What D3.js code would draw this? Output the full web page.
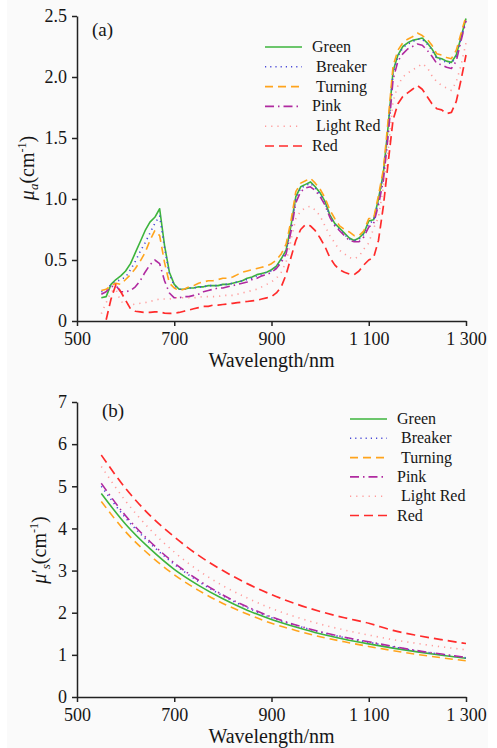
<!DOCTYPE html>
<html>
<head>
<meta charset="utf-8">
<script src="https://cdn.jsdelivr.net/npm/d3@7/dist/d3.min.js"></script>
<style>
  body { margin: 0; background: #fff; }
  svg text { font-family: "Times New Roman", "Liberation Serif", "DejaVu Serif", serif; fill: #161616; }
</style>
</head>
<body>
<div id="chart"></div>
<script>
// ---- data ----
const seriesNames = ['Green', 'Breaker', 'Turning', 'Pink', 'Light Red', 'Red'];

// panel (a): absorption coefficient, cm-1
const wavelengthA = [
  550, 560, 570, 580, 590, 600, 610, 620, 630, 640, 650, 660, 670, 680, 690, 700,
  710, 720, 730, 740, 750, 760, 770, 780, 790, 800, 810, 820, 830, 840, 850, 860,
  870, 880, 890, 900, 910, 920, 930, 940, 950, 960, 970, 980, 990, 1000, 1010, 1020,
  1030, 1040, 1050, 1060, 1070, 1080, 1090, 1100, 1110, 1120, 1130, 1140, 1150, 1160,
  1170, 1180, 1190, 1200, 1210, 1220, 1230, 1240, 1250, 1260, 1270, 1280, 1290, 1300
];
const muaGreen = [
  0.19, 0.20, 0.30, 0.34, 0.37, 0.41, 0.47, 0.56, 0.65, 0.74, 0.81, 0.85, 0.92, 0.62, 0.40, 0.30,
  0.26, 0.26, 0.27, 0.27, 0.28, 0.28, 0.29, 0.29, 0.29, 0.30, 0.30, 0.31, 0.32, 0.33, 0.35, 0.36,
  0.38, 0.39, 0.40, 0.42, 0.45, 0.51, 0.58, 0.78, 1.02, 1.10, 1.12, 1.14, 1.10, 1.05, 0.98, 0.87,
  0.80, 0.76, 0.72, 0.68, 0.66, 0.68, 0.72, 0.82, 0.83, 1.00, 1.21, 1.60, 2.05, 2.18,
  2.25, 2.28, 2.30, 2.31, 2.32, 2.28, 2.23, 2.16, 2.15, 2.13, 2.12, 2.18, 2.33, 2.48
];
const muaBreaker = [
  0.24, 0.25, 0.30, 0.32, 0.34, 0.36, 0.42, 0.49, 0.57, 0.64, 0.72, 0.80, 0.86, 0.60, 0.38, 0.29,
  0.26, 0.26, 0.27, 0.27, 0.28, 0.28, 0.29, 0.29, 0.29, 0.30, 0.30, 0.31, 0.32, 0.33, 0.34, 0.35,
  0.37, 0.38, 0.40, 0.41, 0.44, 0.50, 0.57, 0.76, 1.00, 1.09, 1.11, 1.13, 1.09, 1.04, 0.97, 0.86,
  0.79, 0.75, 0.71, 0.67, 0.66, 0.67, 0.71, 0.80, 0.82, 0.98, 1.20, 1.58, 2.03, 2.17,
  2.24, 2.27, 2.29, 2.31, 2.31, 2.27, 2.22, 2.15, 2.14, 2.12, 2.11, 2.17, 2.32, 2.47
];
const muaTurning = [
  0.25, 0.26, 0.29, 0.31, 0.30, 0.34, 0.38, 0.43, 0.49, 0.56, 0.66, 0.74, 0.70, 0.48, 0.31, 0.27,
  0.25, 0.26, 0.28, 0.29, 0.31, 0.32, 0.33, 0.33, 0.34, 0.35, 0.35, 0.36, 0.38, 0.40, 0.41, 0.42,
  0.43, 0.44, 0.45, 0.47, 0.50, 0.55, 0.63, 0.82, 1.06, 1.13, 1.15, 1.17, 1.13, 1.08, 1.01, 0.91,
  0.84, 0.78, 0.75, 0.73, 0.70, 0.70, 0.74, 0.84, 0.84, 1.03, 1.24, 1.65, 2.09, 2.22,
  2.28, 2.31, 2.33, 2.36, 2.34, 2.31, 2.26, 2.19, 2.18, 2.16, 2.15, 2.22, 2.36, 2.50
];
const muaPink = [
  0.22, 0.24, 0.28, 0.29, 0.24, 0.24, 0.25, 0.28, 0.33, 0.40, 0.46, 0.50, 0.47, 0.33, 0.23, 0.19,
  0.19, 0.20, 0.20, 0.21, 0.22, 0.24, 0.25, 0.26, 0.27, 0.27, 0.28, 0.29, 0.30, 0.31, 0.32, 0.34,
  0.35, 0.37, 0.38, 0.40, 0.43, 0.48, 0.55, 0.73, 0.97, 1.06, 1.09, 1.10, 1.07, 1.02, 0.95, 0.85,
  0.78, 0.74, 0.70, 0.66, 0.65, 0.65, 0.69, 0.77, 0.80, 0.95, 1.15, 1.52, 1.98, 2.13,
  2.19, 2.23, 2.25, 2.27, 2.26, 2.22, 2.17, 2.11, 2.10, 2.08, 2.07, 2.13, 2.30, 2.46
];
const muaLightRed = [
  0.06, 0.15, 0.24, 0.26, 0.16, 0.14, 0.13, 0.14, 0.145, 0.15, 0.16, 0.17, 0.18, 0.18, 0.18, 0.19,
  0.19, 0.19, 0.19, 0.19, 0.195, 0.20, 0.20, 0.20, 0.20, 0.21, 0.21, 0.21, 0.22, 0.23, 0.24, 0.25,
  0.26, 0.28, 0.30, 0.32, 0.35, 0.40, 0.48, 0.66, 0.84, 0.90, 0.93, 0.94, 0.91, 0.86, 0.78, 0.70,
  0.64, 0.58, 0.55, 0.52, 0.51, 0.53, 0.59, 0.64, 0.76, 0.85, 1.10, 1.40, 1.80, 1.93,
  2.00, 2.03, 2.06, 2.08, 2.11, 2.08, 2.01, 1.96, 1.93, 1.91, 1.89, 1.96, 2.10, 2.28
];
const muaRed = [
  null, 0.01, 0.18, 0.30, 0.24, 0.17, 0.10, 0.08, 0.075, 0.07, 0.07, 0.075, 0.075, 0.065, 0.062, 0.065,
  0.07, 0.08, 0.09, 0.10, 0.11, 0.12, 0.12, 0.13, 0.13, 0.135, 0.14, 0.145, 0.15, 0.155, 0.16, 0.165,
  0.17, 0.18, 0.19, 0.20, 0.23, 0.28, 0.38, 0.52, 0.66, 0.75, 0.79, 0.78, 0.74, 0.68, 0.61, 0.52,
  0.46, 0.42, 0.40, 0.385, 0.38, 0.41, 0.46, 0.50, 0.52, 0.66, 0.94, 1.30, 1.65, 1.78,
  1.84, 1.87, 1.90, 1.93, 1.90, 1.84, 1.78, 1.74, 1.73, 1.70, 1.71, 1.80, 1.98, 2.18
];

// panel (b): reduced scattering coefficient, cm-1
const wavelengthB = [550, 600, 650, 700, 750, 800, 850, 900, 950, 1000, 1050, 1100, 1150, 1200, 1250, 1300];
const musGreen    = [4.83, 4.10, 3.52, 3.03, 2.65, 2.33, 2.06, 1.84, 1.66, 1.50, 1.37, 1.26, 1.16, 1.07, 0.99, 0.92];
const musBreaker  = [5.00, 4.25, 3.65, 3.15, 2.74, 2.40, 2.12, 1.88, 1.70, 1.54, 1.41, 1.30, 1.19, 1.09, 1.01, 0.93];
const musTurning  = [4.64, 3.92, 3.36, 2.90, 2.53, 2.22, 1.97, 1.75, 1.58, 1.43, 1.31, 1.20, 1.10, 1.01, 0.93, 0.86];
const musPink     = [5.07, 4.30, 3.69, 3.18, 2.77, 2.42, 2.14, 1.90, 1.71, 1.55, 1.42, 1.31, 1.20, 1.10, 1.02, 0.94];
const musLightRed = [5.47, 4.65, 3.98, 3.44, 3.00, 2.64, 2.35, 2.10, 1.90, 1.73, 1.59, 1.47, 1.36, 1.27, 1.19, 1.12];
const musRed      = [5.74, 4.95, 4.31, 3.80, 3.36, 3.00, 2.69, 2.43, 2.21, 2.03, 1.88, 1.75, 1.58, 1.46, 1.36, 1.27];

const xTicks = [500, 700, 900, 1100, 1300];
const yTicksA = [0, 0.5, 1.0, 1.5, 2.0, 2.5];
const yTicksB = [0, 1, 2, 3, 4, 5, 6, 7];

// ---- styling ----
const FONT = '"Times New Roman", "Liberation Serif", "DejaVu Serif", serif';
const styles = {
  'Green':     { color: '#3cb43c', dash: null,          width: 1.6 },
  'Breaker':   { color: '#4848d8', dash: '1.2,4',       width: 1.6 },
  'Turning':   { color: '#ffa41c', dash: '8,5',         width: 1.6 },
  'Pink':      { color: '#b02aa0', dash: '9,4,1.5,4',   width: 1.6 },
  'Light Red': { color: '#ff9c9c', dash: '1.2,5',       width: 1.6 },
  'Red':       { color: '#ff2b2b', dash: '9,5',         width: 1.7 }
};

const W = 497, H = 748;
const svg = d3.select('#chart').append('svg')
  .attr('width', W)
  .attr('height', H)
  .style('font-family', FONT);

svg.append('rect')
  .attr('x', 7).attr('y', 0)
  .attr('width', 481).attr('height', H)
  .attr('fill', '#fafafa');

const x = d3.scaleLinear().domain([500, 1300]).range([77, 466]);
const fmtX = d => d >= 1000 ? Math.floor(d / 1000) + ' ' + d3.format('03d')(d % 1000) : String(d);

function drawPanel(cfg) {
  const y = d3.scaleLinear().domain(cfg.yDomain).range(cfg.yRange);
  const g = svg.append('g');

  // curves
  cfg.series.forEach((vals, i) => {
    const name = seriesNames[i];
    const st = styles[name];
    const pts = cfg.wl.map((w, j) => [w, vals[j]]);
    const line = d3.line()
      .defined(d => d[1] !== null)
      .x(d => x(d[0]))
      .y(d => y(d[1]))
      .curve(cfg.curve);
    g.append('path')
      .datum(pts)
      .attr('fill', 'none')
      .attr('stroke', st.color)
      .attr('stroke-width', st.width)
      .attr('stroke-dasharray', st.dash)
      .attr('stroke-linejoin', 'round')
      .attr('d', line);
  });

  // axes
  const xAxis = d3.axisBottom(x).tickValues(xTicks).tickFormat(fmtX).tickSize(5).tickSizeOuter(0).tickPadding(6);
  const yAxis = d3.axisLeft(y).tickValues(cfg.yTicks).tickFormat(cfg.yFormat).tickSize(5).tickSizeOuter(0).tickPadding(5);

  const gx = g.append('g')
    .attr('transform', `translate(0, ${cfg.yRange[0]})`)
    .call(xAxis);
  const gy = g.append('g')
    .attr('transform', `translate(${x.range()[0]}, 0)`)
    .call(yAxis);

  [gx, gy].forEach(a => {
    a.attr('font-family', null).style('font-family', FONT);
    a.selectAll('path, line').attr('stroke', '#222').attr('stroke-width', 1.5);
    a.selectAll('text')
      .attr('font-size', 18)
      .style('font-family', FONT)
      .attr('fill', '#161616');
  });

  // x title
  g.append('text')
    .attr('x', (x.range()[0] + x.range()[1]) / 2)
    .attr('y', cfg.xTitleY)
    .attr('text-anchor', 'middle')
    .attr('font-size', 20)
    .text('Wavelength/nm');

  // y title
  const yt = g.append('text')
    .attr('transform', `translate(${cfg.yTitleX}, ${cfg.yTitleY}) rotate(-90)`)
    .attr('text-anchor', 'middle')
    .attr('font-size', 20);
  yt.append('tspan').attr('font-style', 'italic').text('μ');
  if (cfg.prime) yt.append('tspan').text('′');
  yt.append('tspan').attr('font-style', 'italic').attr('font-size', 13).attr('dy', 4).text(cfg.sub);
  yt.append('tspan').attr('dy', -4).text('(cm');
  yt.append('tspan').attr('font-size', 12).attr('dy', -8).text('-1');
  yt.append('tspan').attr('dy', 8).text(')');

  // panel tag
  g.append('text')
    .attr('x', cfg.tagX)
    .attr('y', cfg.tagY)
    .attr('font-size', 19)
    .text(cfg.tag);

  // legend
  const lg = g.append('g');
  seriesNames.forEach((name, i) => {
    const st = styles[name];
    const ly = cfg.legendY + i * cfg.legendStep;
    lg.append('line')
      .attr('x1', cfg.legendX).attr('x2', cfg.legendX + 37)
      .attr('y1', ly).attr('y2', ly)
      .attr('stroke', st.color)
      .attr('stroke-width', st.width)
      .attr('stroke-dasharray', st.dash);
    const indent = (name === 'Breaker' || name === 'Turning' || name === 'Light Red') ? 4 : 0;
    lg.append('text')
      .attr('x', cfg.legendX + 47 + indent)
      .attr('y', ly + 5)
      .attr('font-size', 16)
      .text(name);
  });
}

drawPanel({
  wl: wavelengthA,
  series: [muaGreen, muaBreaker, muaTurning, muaPink, muaLightRed, muaRed],
  yDomain: [0, 2.5],
  yRange: [321, 16],
  yTicks: yTicksA,
  yFormat: d => d === 0 ? '0' : d3.format('.1f')(d),
  curve: d3.curveLinear,
  xTitleY: 367,
  yTitleX: 34,
  yTitleY: 168,
  sub: 'a',
  prime: false,
  tag: '(a)',
  tagX: 92,
  tagY: 36,
  legendX: 265,
  legendY: 47,
  legendStep: 19.8
});

drawPanel({
  wl: wavelengthB,
  series: [musGreen, musBreaker, musTurning, musPink, musLightRed, musRed],
  yDomain: [0, 7],
  yRange: [697, 402],
  yTicks: yTicksB,
  yFormat: d3.format('d'),
  curve: d3.curveMonotoneX,
  xTitleY: 743,
  yTitleX: 46,
  yTitleY: 550,
  sub: 's',
  prime: true,
  tag: '(b)',
  tagX: 102,
  tagY: 417,
  legendX: 350,
  legendY: 419,
  legendStep: 19.3
});
</script>
</body>
</html>
